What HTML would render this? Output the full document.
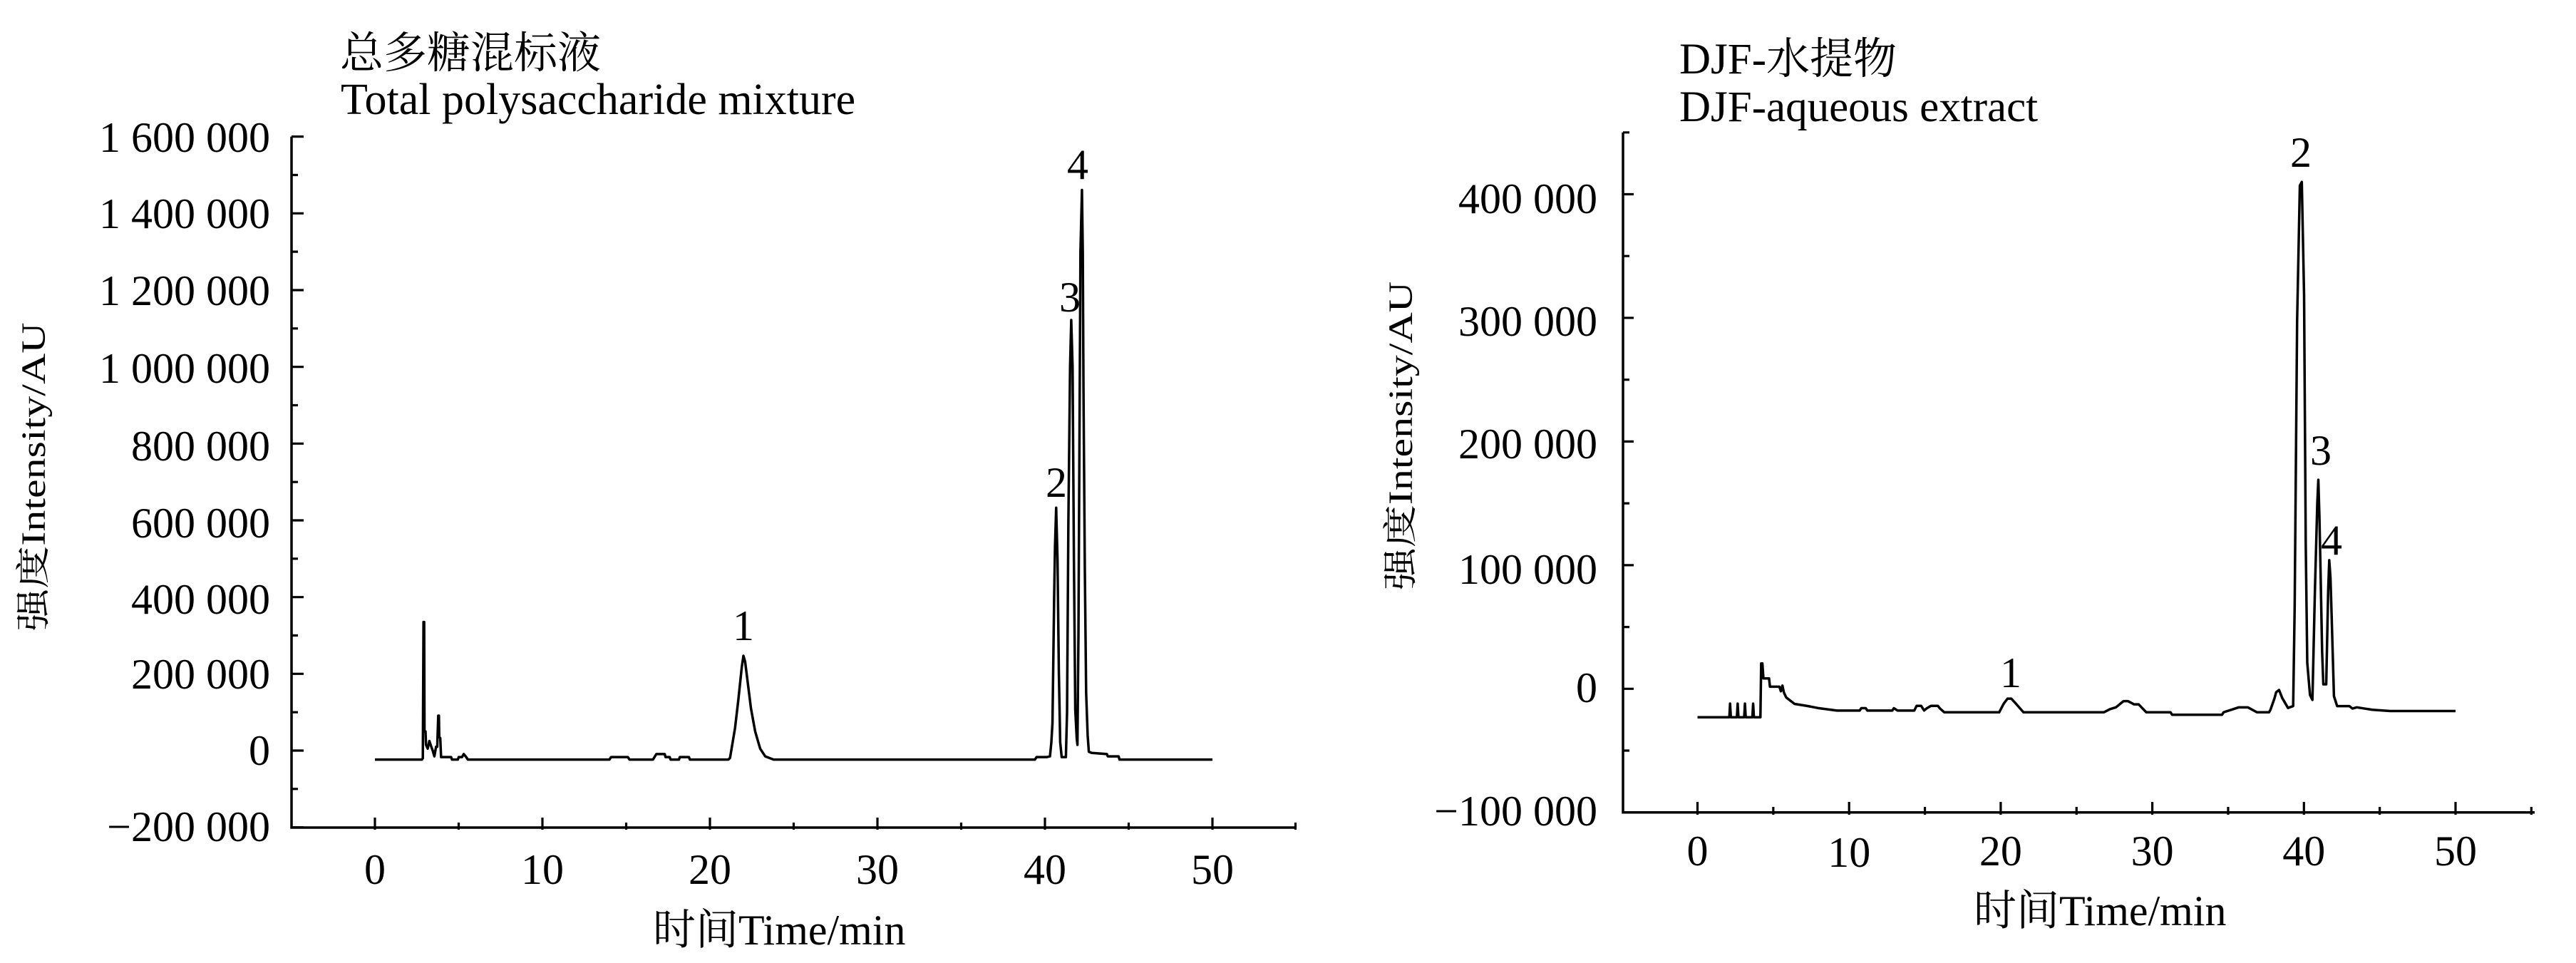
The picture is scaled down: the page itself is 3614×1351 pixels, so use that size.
<!DOCTYPE html>
<html>
<head>
<meta charset="utf-8">
<style>
html,body{margin:0;padding:0;background:#fff;}
svg{display:block;}
text{font-family:"Liberation Serif","Noto Serif CJK SC",serif;fill:#000;}
</style>
</head>
<body>
<svg xmlns="http://www.w3.org/2000/svg" width="3614" height="1351" viewBox="0 0 3614 1351">
<rect x="0" y="0" width="3614" height="1351" fill="#fff"/>

<!-- ================= LEFT PANEL ================= -->
<text x="477" y="95" font-size="61">总多糖混标液</text>
<text x="478" y="160" font-size="62">Total polysaccharide mixture</text>

<!-- axes -->
<path d="M409 191.6 V1161 H1818.5" fill="none" stroke="#000" stroke-width="3.5"/>
<!-- y major ticks -->
<path d="M409 1160.7h17 M409 1053h17 M409 945.3h17 M409 837.7h17 M409 730h17 M409 622.3h17 M409 514.7h17 M409 407h17 M409 299.3h17 M409 191.6h17" stroke="#000" stroke-width="3.2" fill="none"/>
<!-- y minor ticks -->
<path d="M409 1106.8h9 M409 999.2h9 M409 891.5h9 M409 783.8h9 M409 676.2h9 M409 568.5h9 M409 460.8h9 M409 353.1h9 M409 245.5h9" stroke="#000" stroke-width="3.2" fill="none"/>
<!-- x major ticks -->
<path d="M526 1147v17 M761 1147v17 M996 1147v17 M1231 1147v17 M1466 1147v17 M1701 1147v17" stroke="#000" stroke-width="3.2" fill="none"/>
<!-- x minor ticks -->
<path d="M643.5 1154v10 M878.5 1154v10 M1113.5 1154v10 M1348.5 1154v10 M1583.5 1154v10 M1817.5 1154v10" stroke="#000" stroke-width="3.2" fill="none"/>

<!-- y tick labels -->
<g font-size="60" text-anchor="end">
<text x="379" y="213">1 600 000</text>
<text x="379" y="320">1 400 000</text>
<text x="379" y="428">1 200 000</text>
<text x="379" y="537">1 000 000</text>
<text x="379" y="646">800 000</text>
<text x="379" y="754">600 000</text>
<text x="379" y="861">400 000</text>
<text x="379" y="966">200 000</text>
<text x="379" y="1073">0</text>
<text x="379" y="1180">−200 000</text>
</g>
<!-- x tick labels -->
<g font-size="60" text-anchor="middle">
<text x="526" y="1240">0</text>
<text x="761" y="1240">10</text>
<text x="996" y="1240">20</text>
<text x="1231" y="1240">30</text>
<text x="1466" y="1240">40</text>
<text x="1701" y="1240">50</text>
</g>
<text x="916" y="1325" font-size="60">时间Time/min</text>
<text transform="translate(63,669) rotate(-90) scale(1,0.8)" font-size="60" text-anchor="middle">强度Intensity/AU</text>

<!-- peak labels -->
<g font-size="60" text-anchor="middle">
<text x="1043" y="898">1</text>
<text x="1482" y="697">2</text>
<text x="1501" y="437">3</text>
<text x="1512" y="251">4</text>
</g>

<!-- left trace (t in min, v in thousands) -->
<g transform="matrix(23.5 0 0 -0.53835 526 1053)">
<polyline fill="none" stroke="#000" stroke-width="3.5" stroke-linejoin="round" vector-effect="non-scaling-stroke"
points="0,-23.5 2.80,-23.5 2.86,-20 2.90,335 2.94,335 2.96,50 3.02,50 3.05,15 3.15,5 3.25,25 3.35,12 3.45,0 3.55,-15 3.65,10 3.72,10 3.78,91 3.82,91 3.84,35 3.90,33 3.95,-17 4.55,-17 4.6,-23.5 4.95,-23.5 5.0,-17 5.2,-17 5.3,-9 5.45,-17 5.55,-23.5 14.0,-23.5 14.1,-17 15.1,-17 15.2,-23.5 16.6,-23.5 16.8,-9 17.3,-9 17.35,-17 17.6,-17 17.65,-23.5 18.15,-23.5 18.2,-17 18.75,-17 18.8,-23.5 21.1,-23.5 21.2,-19 21.35,20 21.5,59 21.7,134 21.9,217 22.0,247 22.1,232 22.25,180 22.45,110 22.7,50 23.0,5 23.3,-15 23.8,-23.5 39.4,-23.5 39.5,-17 40.1,-17 40.3,-15 40.38,20 40.45,72 40.55,400 40.6,531 40.67,633 40.75,500 40.83,208 40.91,22 41.0,-17 41.25,-17 41.32,100 41.4,600 41.5,1000 41.57,1122 41.65,1000 41.73,500 41.81,107 41.9,30 41.94,15 42.0,300 42.06,800 42.12,1300 42.21,1461 42.26,1300 42.30,950 42.38,478 42.46,150 42.55,40 42.62,-3 42.79,-6 43.7,-9 43.75,-15 44.4,-15 44.45,-23.5 50,-23.5"/>
</g>

<!-- ================= RIGHT PANEL ================= -->
<text x="2356" y="103" font-size="61">DJF-水提物</text>
<text x="2356" y="170" font-size="61">DJF-aqueous extract</text>

<!-- axes -->
<path d="M2277 185.8 V1139.8 H3556" fill="none" stroke="#000" stroke-width="3.5"/>
<!-- y major ticks -->
<path d="M2277 1139.75h15 M2277 966.3h15 M2277 792.85h15 M2277 619.4h15 M2277 445.95h15 M2277 272.5h15" stroke="#000" stroke-width="3.2" fill="none"/>
<!-- y minor ticks -->
<path d="M2277 1053h9 M2277 879.6h9 M2277 706.1h9 M2277 532.7h9 M2277 359.2h9 M2277 185.8h9" stroke="#000" stroke-width="3.2" fill="none"/>
<!-- x major ticks -->
<path d="M2381.5 1125v18 M2594.2 1125v18 M2806.9 1125v18 M3019.6 1125v18 M3232.3 1125v18 M3445 1125v18" stroke="#000" stroke-width="3.2" fill="none"/>
<!-- x minor ticks -->
<path d="M2487.85 1132v11 M2700.55 1132v11 M2913.25 1132v11 M3125.95 1132v11 M3338.65 1132v11 M3551.35 1132v11" stroke="#000" stroke-width="3.2" fill="none"/>

<!-- y tick labels -->
<g font-size="60" text-anchor="end">
<text x="2241" y="299">400 000</text>
<text x="2241" y="471">300 000</text>
<text x="2241" y="643">200 000</text>
<text x="2241" y="819">100 000</text>
<text x="2241" y="985">0</text>
<text x="2241" y="1158">−100 000</text>
</g>
<!-- x tick labels -->
<g font-size="60" text-anchor="middle">
<text x="2381.5" y="1214">0</text>
<text x="2594.2" y="1216">10</text>
<text x="2806.9" y="1214">20</text>
<text x="3019.6" y="1214">30</text>
<text x="3232.3" y="1214">40</text>
<text x="3445" y="1214">50</text>
</g>
<text x="2769" y="1298" font-size="60">时间Time/min</text>
<text transform="translate(1981,611.5) rotate(-90) scale(1,0.8)" font-size="60" text-anchor="middle">强度Intensity/AU</text>

<!-- peak labels -->
<g font-size="60" text-anchor="middle">
<text x="2821" y="964">1</text>
<text x="3228" y="234">2</text>
<text x="3256" y="652">3</text>
<text x="3271" y="778">4</text>
</g>

<!-- right trace -->
<g transform="matrix(21.27 0 0 -1.7345 2381.5 966.3)">
<polyline fill="none" stroke="#000" stroke-width="3.5" stroke-linejoin="round" vector-effect="non-scaling-stroke"
points="0,-23 2.1,-23 2.15,-12 2.2,-23 2.6,-23 2.65,-12 2.7,-23 3.08,-23 3.13,-12 3.18,-23 3.62,-23 3.67,-12 3.72,-23 4.15,-23 4.2,20.5 4.28,20.5 4.35,8.4 4.72,8.4 4.78,1.7 5.4,1.7 5.5,-2 5.6,2.6 5.7,-3 5.85,-7 6.4,-12.2 7.2,-13.8 8.0,-15.7 9.2,-17.6 10.7,-17.6 10.8,-15.7 11.1,-15.7 11.2,-17.6 12.85,-17.6 12.95,-15.7 13.2,-17.6 14.3,-17.6 14.45,-13.8 14.75,-13.8 14.95,-17.6 15.1,-16 15.4,-13.8 15.85,-13.8 16.0,-16 16.28,-19 19.9,-19 20.2,-12 20.45,-8 20.7,-8 21.0,-12 21.5,-19 26.8,-19 27.2,-16.5 27.6,-15 28.1,-10 28.4,-10 28.8,-12.6 29.1,-12.6 29.6,-19 31.2,-19 31.3,-21 34.6,-21 34.7,-19 35.2,-17 35.7,-15 36.3,-15 36.9,-19 37.7,-19 37.79,-17 38.05,-8 38.17,-2.7 38.36,-1 38.57,-7.5 38.95,-15.5 39.29,-14 39.39,67 39.55,297 39.73,407 39.86,410 40.01,318 40.12,116 40.22,21 40.4,-5 40.56,-9 40.72,77 40.88,150 40.95,169 41.02,140 41.08,105 41.2,30 41.28,3.6 41.47,3.6 41.6,80 41.67,104 41.75,90 41.83,58 41.98,-6 42.19,-14 43.0,-14 43.2,-16 43.49,-15 44.0,-16 44.52,-17 45.69,-18 50,-18"/>
</g>
</svg>
</body>
</html>
